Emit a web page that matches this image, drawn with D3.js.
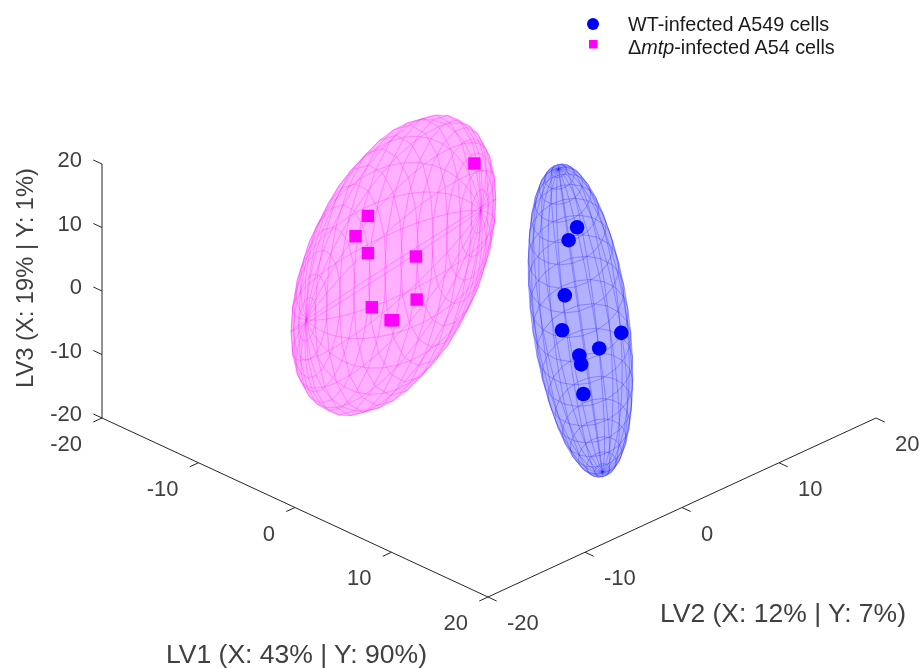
<!DOCTYPE html>
<html>
<head>
<meta charset="utf-8">
<script src="https://cdn.jsdelivr.net/npm/d3@7"></script>
<style>
  html, body { margin: 0; padding: 0; background: #fff; }
  svg { display: block; font-family: "Liberation Sans", Arial, sans-serif; filter: blur(0.4px); }
</style>
</head>
<body>
<svg id="chart" width="921" height="668"></svg>
<script>
// scores: [LV1, LV2, LV3]
let wtPoints = [
  [9.57, -0.44, 17.09], [9.13, -0.87, 15.05], [8.93, -1.07, 6.36],
  [8.79, -1.21, 0.87], [11.85, 1.85, 0.46], [10.71, 0.71, -2.0],
  [9.68, -0.32, -3.1], [9.78, -0.22, -4.51], [9.89, -0.11, -9.17]
];
let mtpPoints = [
  [-5.77, 4.23, 13.03], [-11.27, -1.27, 4.78], [-11.91, -1.91, 1.58],
  [-11.27, -1.27, -1.09], [-8.79, 1.21, -1.61], [-8.75, 1.25, -8.4],
  [-11.07, -1.07, -9.61], [-10.1, -0.1, -11.65], [-9.97, 0.03, -11.65]
];

// ellipsoid centres and semi-axis vectors, in LV units
let wtCentre = [9.74, -0.26, 2.39];
let wtAxes = [[2.14, 2.14, -2.18], [-1.23, -1.23, -6.1], [1.14, 1.14, -23.84]];
let mtpCentre = [-9.95, 0.05, -3.0];
let mtpAxes = [[0.88, 0.88, -18.43], [2.67, 2.67, 12.24], [4.5, 4.5, 8.6]];

let ticks = [-20, -10, 0, 10, 20];
let axisLabels = ['LV1 (X: 43% | Y: 90%)', 'LV2 (X: 12% | Y: 7%)', 'LV3 (X: 19% | Y: 1%)'];

let COLORS = {
  wt: '#0000ff',
  mtp: '#ff00ff',
  axis: '#262626',
  text: '#404040'
};

let svg = d3.select('#chart');

// oblique view: each LV contributes a linear offset on screen
let lv1X = d3.scaleLinear().domain([-20, 20]).range([0, 386]);
let lv1Y = d3.scaleLinear().domain([-20, 20]).range([0, 179]);
let lv2X = d3.scaleLinear().domain([-20, 20]).range([0, 388]);
let lv2Y = d3.scaleLinear().domain([-20, 20]).range([0, -179]);
let lv3Y = d3.scaleLinear().domain([-20, 20]).range([0, -254]);

function project(p) {
  return [
    102 + lv1X(p[0]) + lv2X(p[1]),
    418 + lv1Y(p[0]) + lv2Y(p[1]) + lv3Y(p[2])
  ];
}

let line = d3.line();

function drawEllipsoid(centre, axes, color) {
  let n = 20;
  let grid = [];
  for (let i = 0; i <= n; i++) {
    let phi = -Math.PI / 2 + Math.PI * i / n;
    let row = [];
    for (let j = 0; j <= n; j++) {
      let theta = 2 * Math.PI * j / n;
      let u = Math.cos(phi) * Math.cos(theta);
      let v = Math.cos(phi) * Math.sin(theta);
      let w = Math.sin(phi);
      row.push(project(centre.map((c, k) => c + u * axes[0][k] + v * axes[1][k] + w * axes[2][k])));
    }
    grid.push(row);
  }

  let faces = [];
  for (let i = 0; i < n; i++) {
    for (let j = 0; j < n; j++) {
      faces.push([grid[i][j], grid[i][j + 1], grid[i + 1][j + 1], grid[i + 1][j]]);
    }
  }

  svg.append('g')
    .selectAll('path')
    .data(faces)
    .enter().append('path')
      .attr('d', d => line(d) + 'Z')
      .attr('fill', color)
      .attr('fill-opacity', 0.17)
      .attr('stroke', color)
      .attr('stroke-opacity', 0.25)
      .attr('stroke-width', 0.6);
}

function drawAxes() {
  let g = svg.append('g').attr('class', 'axes');
  let segments = [
    [[-20, -20, -20], [20, -20, -20]],
    [[20, -20, -20], [20, 20, -20]],
    [[-20, -20, -20], [-20, -20, 20]]
  ];
  ticks.forEach(t => {
    segments.push([[t, -20, -20], [t, -20.9, -20]]);
    segments.push([[20, t, -20], [20.9, t, -20]]);
    segments.push([[-20, -20, t], [-20.9, -20, t]]);
  });

  g.selectAll('path')
    .data(segments)
    .enter().append('path')
      .attr('d', d => line(d.map(project)))
      .attr('fill', 'none')
      .attr('stroke', COLORS.axis)
      .attr('stroke-width', 1);

  let tickFont = 22;
  g.selectAll('.lv1-tick')
    .data(ticks)
    .enter().append('text')
      .attr('class', 'lv1-tick')
      .attr('x', d => project([d, -20, -20])[0] - 20)
      .attr('y', d => project([d, -20, -20])[1] + 33)
      .attr('text-anchor', 'end')
      .attr('font-size', tickFont)
      .attr('fill', COLORS.text)
      .text(d => d);

  g.selectAll('.lv2-tick')
    .data(ticks)
    .enter().append('text')
      .attr('class', 'lv2-tick')
      .attr('x', d => project([20, d, -20])[0] + 19)
      .attr('y', d => project([20, d, -20])[1] + 33)
      .attr('text-anchor', 'start')
      .attr('font-size', tickFont)
      .attr('fill', COLORS.text)
      .text(d => d);

  g.selectAll('.lv3-tick')
    .data(ticks)
    .enter().append('text')
      .attr('class', 'lv3-tick')
      .attr('x', 82)
      .attr('y', d => project([-20, -20, d])[1] + 3)
      .attr('text-anchor', 'end')
      .attr('font-size', tickFont)
      .attr('fill', COLORS.text)
      .text(d => d);

  g.append('text').attr('x', 166).attr('y', 663)
    .attr('font-size', 25).attr('textLength', 261).attr('lengthAdjust', 'spacingAndGlyphs')
    .attr('fill', COLORS.text).text(axisLabels[0]);
  g.append('text').attr('x', 660).attr('y', 622)
    .attr('font-size', 25).attr('textLength', 246).attr('lengthAdjust', 'spacingAndGlyphs')
    .attr('fill', COLORS.text).text(axisLabels[1]);
  g.append('text').attr('transform', 'translate(33,388) rotate(-90)')
    .attr('font-size', 24).attr('textLength', 220).attr('lengthAdjust', 'spacingAndGlyphs')
    .attr('fill', COLORS.text).text(axisLabels[2]);
}

function drawPoints() {
  svg.append('g')
    .selectAll('circle')
    .data(wtPoints)
    .enter().append('circle')
      .attr('cx', d => project(d)[0])
      .attr('cy', d => project(d)[1])
      .attr('r', 7.3)
      .attr('fill', COLORS.wt);

  svg.append('g')
    .selectAll('rect')
    .data(mtpPoints)
    .enter().append('rect')
      .attr('x', d => project(d)[0] - 6.2)
      .attr('y', d => project(d)[1] - 6.2)
      .attr('width', 12.4)
      .attr('height', 12.4)
      .attr('fill', COLORS.mtp);
}

function drawLegend() {
  let g = svg.append('g').attr('class', 'legend');
  g.append('circle').attr('cx', 593).attr('cy', 24).attr('r', 6).attr('fill', COLORS.wt);
  g.append('rect').attr('x', 589).attr('y', 40).attr('width', 8.5).attr('height', 8.5).attr('fill', COLORS.mtp);

  g.append('text').attr('x', 628).attr('y', 31).attr('font-size', 19.8).attr('fill', '#1a1a1a')
    .text('WT-infected A549 cells');
  let second = g.append('text').attr('x', 628).attr('y', 54).attr('font-size', 19.8).attr('fill', '#1a1a1a');
  second.append('tspan').text('Δ');
  second.append('tspan').attr('font-style', 'italic').text('mtp');
  second.append('tspan').text('-infected A54 cells');
}

drawAxes();
drawEllipsoid(mtpCentre, mtpAxes, COLORS.mtp);
drawEllipsoid(wtCentre, wtAxes, COLORS.wt);
drawPoints();
drawLegend();
</script>
</body>
</html>
